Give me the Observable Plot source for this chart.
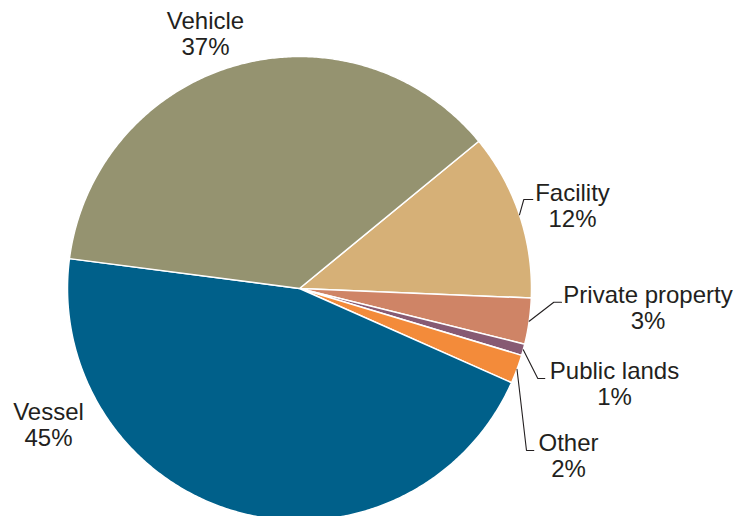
<!DOCTYPE html>
<html><head><meta charset="utf-8">
<script src="https://cdn.jsdelivr.net/npm/d3@7"></script>
<script src="https://cdn.jsdelivr.net/npm/@observablehq/plot@0.6"></script>
<style>html,body{margin:0;padding:0;background:#fff;overflow:hidden}</style>
</head><body><div id="chart"></div>
<script>
// ---- data ----
const categories = ["Facility", "Private property", "Public lands", "Other", "Vessel", "Vehicle"];
const shares = [11.6, 3.2, 0.8, 2.0, 45.4, 37.0];
const percentLabels = ["12%", "3%", "1%", "2%", "45%", "37%"];
const colors = ["#d6b077", "#cf8466", "#875a73", "#f38b3a", "#00608a", "#959370"];

// ---- layout (pixel offsets from pie centre, y downward) ----
const R = 232;
const startDeg = 50.6;
const labelPos = {
  "Facility":         {text: [273, -62],   elbow: [224.3, -89], end: [233.3, -89]},
  "Private property": {text: [348.5, 40],  elbow: [254.3, 13.7], end: [262, 13.7]},
  "Public lands":     {text: [315, 116],   elbow: [238.3, 90],  end: [245.3, 90]},
  "Other":            {text: [269, 188],   elbow: [227, 162],   end: [234.3, 162]},
  "Vessel":           {text: [-251, 157]},
  "Vehicle":          {text: [-94, -234]}
};

const a0 = startDeg * Math.PI / 180;
const arcs = d3.pie().sort(null).startAngle(a0).endAngle(a0 + 2 * Math.PI)(shares);

const slicePts = [];
arcs.forEach((a, i) => {
  const cat = categories[i];
  slicePts.push({cat, x: 0, y: 0});
  const n = Math.max(2, Math.ceil((a.endAngle - a.startAngle) / (Math.PI / 360)));
  for (let k = 0; k <= n; k++) {
    const t = a.startAngle + (a.endAngle - a.startAngle) * k / n;
    slicePts.push({cat, x: R * Math.sin(t), y: -R * Math.cos(t)});
  }
  slicePts.push({cat, x: 0, y: 0});
});

const leaderPts = [];
const labels = [];
arcs.forEach((a, i) => {
  const cat = categories[i];
  const L = labelPos[cat];
  const mid = (a.startAngle + a.endAngle) / 2;
  if (L.elbow) {
    leaderPts.push({cat, x: R * Math.sin(mid), y: -R * Math.cos(mid)});
    leaderPts.push({cat, x: L.elbow[0], y: L.elbow[1]});
    leaderPts.push({cat, x: L.end[0], y: L.end[1]});
  }
  labels.push({cat, x: L.text[0], y: L.text[1], text: cat + "\n" + percentLabels[i]});
});

const plot = Plot.plot({
  width: 746, height: 516, margin: 0,
  style: {background: "#fff", overflow: "hidden"},
  x: {domain: [-R, R], range: [67, 531], axis: null},
  y: {domain: [-R, R], range: [56, 520], axis: null},
  color: {domain: categories, range: colors},
  marks: [
    Plot.line(slicePts, {x: "x", y: "y", z: "cat", fill: "cat", stroke: "white", strokeWidth: 1.5, strokeLinejoin: "round"}),
    Plot.line(leaderPts, {x: "x", y: "y", z: "cat", stroke: "#231f20", strokeWidth: 1.1}),
    Plot.text(labels, {x: "x", y: "y", text: "text", textAnchor: "middle", lineAnchor: "bottom",
      lineHeight: 26 / 24, fontSize: 24, fill: "#231f20", fontFamily: "'Liberation Sans', Arial, sans-serif"})
  ]
});
document.getElementById("chart").appendChild(plot);
</script>
</body></html>
